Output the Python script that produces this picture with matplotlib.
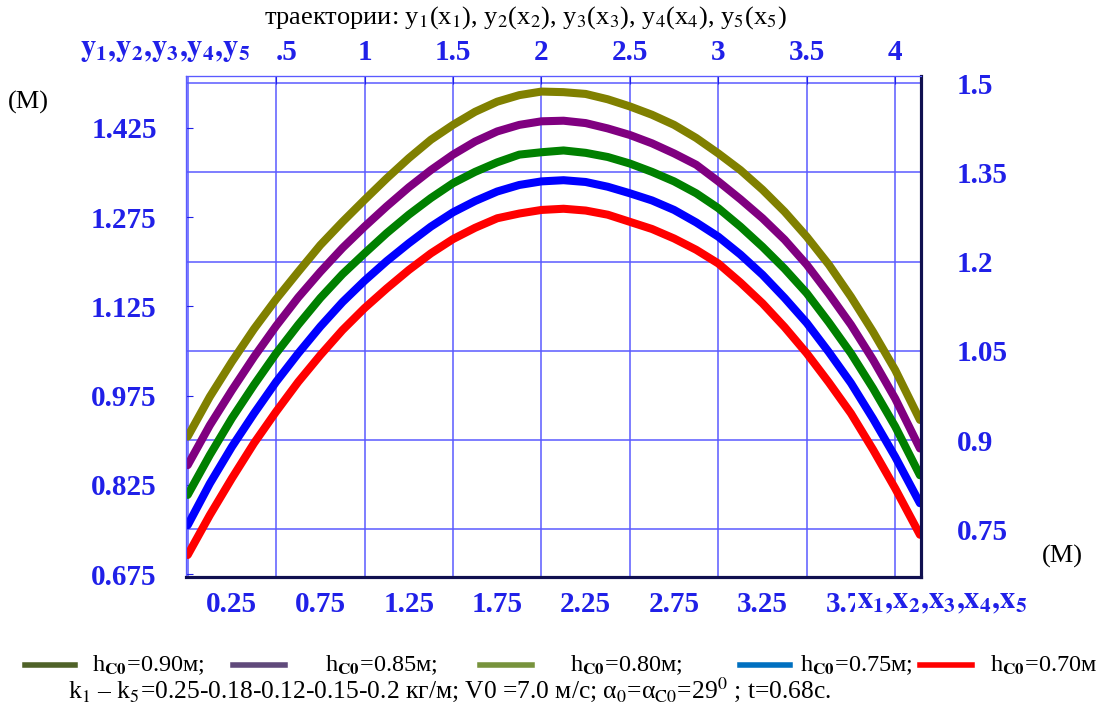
import numpy as np
import matplotlib
matplotlib.use("Agg")
from matplotlib import pyplot as plt
from matplotlib.lines import Line2D

plt.rcParams['font.family'] = ['Liberation Serif', 'DejaVu Serif']
plt.rcParams['mathtext.fontset'] = 'stix'

# траектории, значения
x = [0, 0.125, 0.25, 0.375, 0.5, 0.625, 0.75, 0.875, 1.0, 1.125, 1.25,
     1.375, 1.5, 1.625, 1.75, 1.875, 2.0, 2.125, 2.25, 2.375, 2.5, 2.625,
     2.75, 2.875, 3.0, 3.125, 3.25, 3.375, 3.5, 3.625, 3.75, 3.875, 4.0, 4.14]
y1 = [0.906, 0.973, 1.032, 1.087, 1.137, 1.183, 1.228, 1.267, 1.304, 1.340,
      1.374, 1.405, 1.430, 1.452, 1.469, 1.480, 1.486, 1.485, 1.482, 1.473,
      1.461, 1.447, 1.430, 1.408, 1.382, 1.354, 1.321, 1.284, 1.242, 1.195,
      1.141, 1.082, 1.018, 0.934]
y2 = [0.858, 0.925, 0.984, 1.040, 1.092, 1.140, 1.183, 1.223, 1.259, 1.293,
      1.325, 1.354, 1.380, 1.402, 1.419, 1.430, 1.436, 1.437, 1.433, 1.424,
      1.413, 1.399, 1.382, 1.363, 1.335, 1.305, 1.273, 1.237, 1.195, 1.146,
      1.094, 1.035, 0.970, 0.886]
y3 = [0.808, 0.875, 0.937, 0.993, 1.046, 1.094, 1.139, 1.179, 1.214, 1.248,
      1.279, 1.307, 1.332, 1.351, 1.367, 1.380, 1.384, 1.387, 1.383, 1.376,
      1.365, 1.351, 1.335, 1.315, 1.290, 1.259, 1.225, 1.188, 1.147, 1.098,
      1.046, 0.987, 0.923, 0.841]
y4 = [0.757, 0.827, 0.889, 0.945, 0.998, 1.046, 1.091, 1.132, 1.168, 1.201,
      1.231, 1.259, 1.283, 1.302, 1.318, 1.329, 1.335, 1.337, 1.334, 1.326,
      1.315, 1.303, 1.287, 1.266, 1.242, 1.212, 1.178, 1.139, 1.097, 1.048,
      0.996, 0.936, 0.872, 0.794]
y5 = [0.707, 0.774, 0.836, 0.895, 0.948, 0.998, 1.043, 1.085, 1.122, 1.155,
      1.186, 1.214, 1.238, 1.257, 1.273, 1.281, 1.287, 1.289, 1.286, 1.279,
      1.267, 1.255, 1.239, 1.220, 1.197, 1.165, 1.130, 1.090, 1.046, 0.997,
      0.945, 0.884, 0.819, 0.741]

bottom_ticks = [0.25, 0.75, 1.25, 1.75, 2.25, 2.75, 3.25, 3.75]
bottom_labels = ['0.25', '0.75', '1.25', '1.75', '2.25', '2.75', '3.25', '3.75']
top_ticks = [0.5, 1, 1.5, 2, 2.5, 3, 3.5, 4]
top_labels = ['.5', '1', '1.5', '2', '2.5', '3', '3.5', '4']
left_ticks = [0.675, 0.825, 0.975, 1.125, 1.275, 1.425]
left_labels = ['0.675', '0.825', '0.975', '1.125', '1.275', '1.425']
right_ticks = [0.75, 0.9, 1.05, 1.2, 1.35, 1.5]
right_labels = ['0.75', '0.9', '1.05', '1.2', '1.35', '1.5']

legend_labels = ['h$_{\\mathbf{C0}}$=0.90м;', 'h$_{\\mathbf{C0}}$=0.85м;',
                 'h$_{\\mathbf{C0}}$=0.80м;', 'h$_{\\mathbf{C0}}$=0.75м;',
                 'h$_{\\mathbf{C0}}$=0.70м']

curve_colors = ['#808000', '#800080', '#008000', '#0000ff', '#ff0000']
legend_colors = ['#4f6228', '#604a7b', '#77933c', '#0070c0', '#ff0000']
tick_blue = '#2020e8'
grid_blue = '#5a5aff'

W, H = 1108, 713
fig = plt.figure(figsize=(W / 100, H / 100), dpi=100)
ax = fig.add_axes([186 / W, 1 - 577 / H, (921 - 186) / W, (577 - 75.5) / H])

for yy, c in zip([y1, y2, y3, y4, y5], curve_colors):
    ax.plot(x, yy, color=c, lw=5.8, solid_capstyle='round',
            solid_joinstyle='round', zorder=3)

ax.set_xlim(-0.0096, 4.146)
ax.set_ylim(0.670, 1.513)

# сетка
ax.set_xticks(np.arange(0, 4.01, 0.25), minor=True)
ax.set_yticks(np.arange(0.675, 1.501, 0.075), minor=True)
ax.grid(which='minor', color=grid_blue, lw=1.1)
ax.tick_params(which='minor', length=0)

lab_font = dict(family='Liberation Serif', weight='bold', size=21)

ax.set_xticks(bottom_ticks)
ax.set_xticklabels(bottom_labels, **lab_font)
ax.set_yticks(left_ticks)
ax.set_yticklabels(left_labels, **lab_font)
ax.tick_params(axis='x', which='major', length=0, pad=10, colors=tick_blue)
ax.tick_params(axis='y', which='major', direction='in', length=5,
               pad=21, colors=tick_blue)

axt = ax.twiny()
axt.set_xlim(ax.get_xlim())
axt.set_xticks(top_ticks)
axt.set_xticklabels(top_labels, **lab_font)
axt.get_xticklabels()[0].set_ha('left')
axt.tick_params(axis='x', direction='in', length=6, pad=7, colors=tick_blue)

axr = ax.twinx()
axr.set_ylim(ax.get_ylim())
axr.set_yticks(right_ticks)
axr.set_yticklabels(right_labels, **lab_font)
axr.tick_params(axis='y', direction='in', length=0, pad=26, colors=tick_blue)

for a in (ax, axt, axr):
    a.spines['left'].set_color(grid_blue)
    a.spines['top'].set_color(grid_blue)
    a.spines['bottom'].set_color('#101050')
    a.spines['right'].set_color('#101050')
    a.spines['bottom'].set_linewidth(2.2)
    a.spines['right'].set_linewidth(2.2)

fig.text(80 / W, 1 - 50 / H, r'$\mathbf{y_1{,}y_2{,}y_3{,}y_4{,}y_5}$',
         color=tick_blue, fontsize=22, va='center', ha='left')
fig.text(857 / W, 1 - 601 / H, r'$\mathbf{x_1{,}x_2{,}x_3{,}x_4{,}x_5}$',
         color=tick_blue, fontsize=22, va='center', ha='left',
         bbox=dict(facecolor='white', edgecolor='none', pad=1))

fig.text(525 / W, 1 - 18 / H,
         'траектории: y$_1$(x$_1$), y$_2$(x$_2$), y$_3$(x$_3$), y$_4$(x$_4$), y$_5$(x$_5$)',
         fontsize=19, ha='center', va='center')
fig.text(8 / W, 1 - 102 / H, '(M)', fontsize=19, va='center', ha='left')
fig.text(1042 / W, 1 - 556 / H, '(M)', fontsize=19, va='center', ha='left')

# легенда
key_x = [(25, 75, 92), (233, 285, 325), (480, 532, 570), (740, 790, 800),
         (920, 972, 990)]
for (x0, x1, tx), c, lab in zip(key_x, legend_colors, legend_labels):
    fig.add_artist(Line2D([x0 / W, x1 / W], [1 - 665 / H, 1 - 665 / H],
                          color=c, lw=4, transform=fig.transFigure))
    fig.text(tx / W, 1 - 665 / H, lab, fontsize=17.5, va='center', ha='left')

fig.text(68 / W, 1 - 690 / H,
         'k$_1$ – k$_5$=0.25-0.18-0.12-0.15-0.2 кг/м; V0 =7.0 м/с; '
         'α$_0$=α$_{\\mathrm{C0}}$=29$^0$ ; t=0.68с.',
         fontsize=18.4, va='center', ha='left')

fig.savefig('out.png', dpi=100)
